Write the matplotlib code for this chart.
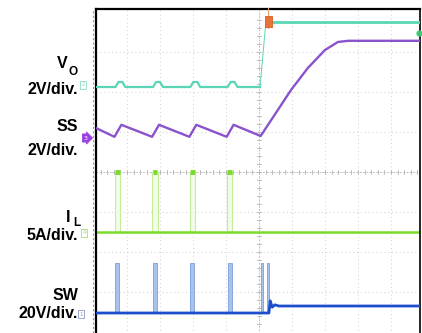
"""
Soft-start scope capture: VO, SS, IL and SW on a 10 x 8 division screen.
Data are in screen divisions (x: time div from the graticule left edge,
y: div from the graticule bottom).
"""

import numpy as np
import matplotlib
matplotlib.use("Agg")
import matplotlib.pyplot as plt
from matplotlib.patches import Rectangle

W_PX, H_PX = 422, 333

# switching bursts before the restart (div)
pulse_x = [0.71, 1.85, 2.98, 4.11]
restart_x = [5.09, 5.27]

# VO trace
vo_x = [0.06, 0.65, 0.74, 0.86, 0.95, 1.79, 1.88, 2.00, 2.09, 2.92, 3.01, 3.13, 3.22,
        4.05, 4.14, 4.26, 4.35, 5.03]
vo_y = [6.125, 6.125, 6.25, 6.25, 6.125, 6.125, 6.25, 6.25, 6.125, 6.125, 6.25, 6.25, 6.125,
        6.125, 6.25, 6.25, 6.125, 6.125]
vo_jump_x = [5.03, 5.21]
vo_jump_y = [6.125, 7.76]
vo_hi_x = [5.21, 9.9]
vo_hi_y = [7.76, 7.76]

# SS trace
ss_x = [0.06, 0.62, 0.83, 1.76, 1.97, 2.89, 3.10, 4.02, 4.23, 5.05,
        5.97, 6.48, 7.00, 7.39, 7.70, 9.90]
ss_y = [5.10, 4.88, 5.18, 4.88, 5.18, 4.88, 5.18, 4.88, 5.18, 4.90,
        6.05, 6.60, 7.05, 7.25, 7.28, 7.28]

# IL trace
il_base = 2.50
il_peak = 4.00

# SW trace
sw_x = [0.06, 5.30, 5.34, 5.40, 5.48, 5.60, 9.90]
sw_y = [0.475, 0.475, 0.78, 0.62, 0.68, 0.65, 0.65]
sw_peak = 1.725

labels = [("2V/div.", 90), ("2V/div.", 150), ("5A/div.", 235), ("20V/div.", 313)]

C_VO = "#5ad6b6"
C_SS = "#8a52cc"
C_IL = "#78dc28"
C_IL_P = "#c4ee9c"
C_SW = "#1d4fcc"
C_SW_P = "#a7c2ec"
C_GRID = "#cfcfcf"


def px(x, y):
    return x / W_PX, 1 - y / H_PX


fig = plt.figure(figsize=(W_PX / 100, H_PX / 100), dpi=100)
# axes spans px 96..420 horizontally, 9..340 vertically (bottom runs off the image)
ax = fig.add_axes([96 / W_PX, (H_PX - 340) / H_PX, (420 - 96) / W_PX, (340 - 9) / H_PX])
ax.set_xlim((96 - 94) / 33, (420 - 94) / 33)
ax.set_ylim((332 - 340) / 40, (332 - 9) / 40)
ax.set_xticks([]); ax.set_yticks([])
ax.spines["bottom"].set_visible(False)
for s in ["left", "top"]:
    ax.spines[s].set_linewidth(1.6)
ax.spines["right"].set_linewidth(1.2)

# graticule
for gx in range(1, 10):
    ax.axvline(gx, color=C_GRID, lw=0.7, ls=(0, (1, 3)), zorder=0)
for gy in range(1, 8):
    ax.axhline(gy, color=C_GRID, lw=0.7, ls=(0, (1, 3)), zorder=0)
ax.axvline(5, color="#b4b4b4", lw=0.6, ls=(0, (2, 2)), zorder=0)
ax.axhline(4, color="#b4b4b4", lw=0.6, ls=(0, (2, 2)), zorder=0)
for t in np.arange(0.2, 8, 0.2):
    ax.plot([4.94, 5.06], [t, t], color="#b4b4b4", lw=0.6, zorder=0)
for t in np.arange(0.2, 10, 0.2):
    ax.plot([t, t], [3.95, 4.05], color="#b4b4b4", lw=0.6, zorder=0)
fig.add_artist(plt.Line2D([93 / W_PX] * 2, [0, 1 - 9 / H_PX], color="#9a9a9a",
                          lw=0.8, ls=(0, (2, 2))))

# SW pulses
for p in pulse_x:
    ax.add_patch(Rectangle((p - 0.06, sw_y[0]), 0.12, sw_peak - sw_y[0],
                           fc=C_SW_P, ec="#7d9fd8", lw=0.6, zorder=2))
for p in restart_x:
    ax.add_patch(Rectangle((p - 0.04, sw_y[0]), 0.08, sw_peak - sw_y[0],
                           fc=C_SW_P, ec="#7d9fd8", lw=0.6, zorder=2))
ax.plot(sw_x, sw_y, color=C_SW, lw=2.0, zorder=3)

# IL pulses
for p in pulse_x:
    ax.add_patch(Rectangle((p - 0.08, il_base), 0.16, il_peak - il_base,
                           fc="#f1fbe8", ec=C_IL_P, lw=0.8, zorder=2))
    ax.plot([p - 0.07, p + 0.07], [il_peak, il_peak], color=C_IL, lw=3.5,
            solid_capstyle="butt", zorder=3)
ax.plot([0.06, 9.9], [il_base, il_base], color=C_IL, lw=1.8, zorder=2)

# VO
ax.plot(vo_x, vo_y, color=C_VO, lw=1.6, zorder=3)
ax.plot(vo_jump_x, vo_jump_y, color=C_VO, lw=0.7, zorder=3)
ax.plot(vo_hi_x, vo_hi_y, color=C_VO, lw=2.0, zorder=3)

# SS
ax.plot(ss_x, ss_y, color=C_SS, lw=1.7, zorder=4)

# trigger marker
ax.plot([5.27, 5.27], [7.6, 8.1], color="#e0a070", lw=0.8, clip_on=False, zorder=5)
ax.add_patch(Rectangle((5.18, 7.62), 0.2, 0.27, fc="#e8743a", ec="#d86020",
                       lw=0.6, zorder=6))
ax.scatter([9.85], [7.48], s=12, color="#3cc870", zorder=5, clip_on=False)

# channel labels
kw = dict(ha="right", va="center", fontsize=11.5, fontweight="bold",
          family="Liberation Sans", color="black")
for txt, y in labels:
    fig.text(*px(78, y), txt, **kw)
fig.text(*px(68, 64), "V", **kw)
fig.text(*px(78, 72), "O", **{**kw, "fontsize": 8.5})
fig.text(*px(78, 127), "SS", **kw)
fig.text(*px(70, 218), "I", **kw)
fig.text(*px(80, 223), "L", **{**kw, "fontsize": 8.5})
fig.text(*px(78, 296), "SW", **kw)

# channel ground markers
for num, x, y, ec in [("2", 83, 85, "#8fdcc4"), ("4", 84, 233, "#9ede6a"), ("1", 81, 314, "#8a9ac8")]:
    fig.text(*px(x, y), num, fontsize=4, ha="center", va="center", color=ec,
             bbox=dict(boxstyle="square,pad=0.2", fc="white", ec=ec, lw=0.6))
fig.text(*px(86, 138), "3", fontsize=4.5, ha="center", va="center", color="white",
         bbox=dict(boxstyle="rarrow,pad=0.25", fc="#9a40e0", ec="#9a40e0", lw=0.6))

fig.savefig("out.png", dpi=100)
